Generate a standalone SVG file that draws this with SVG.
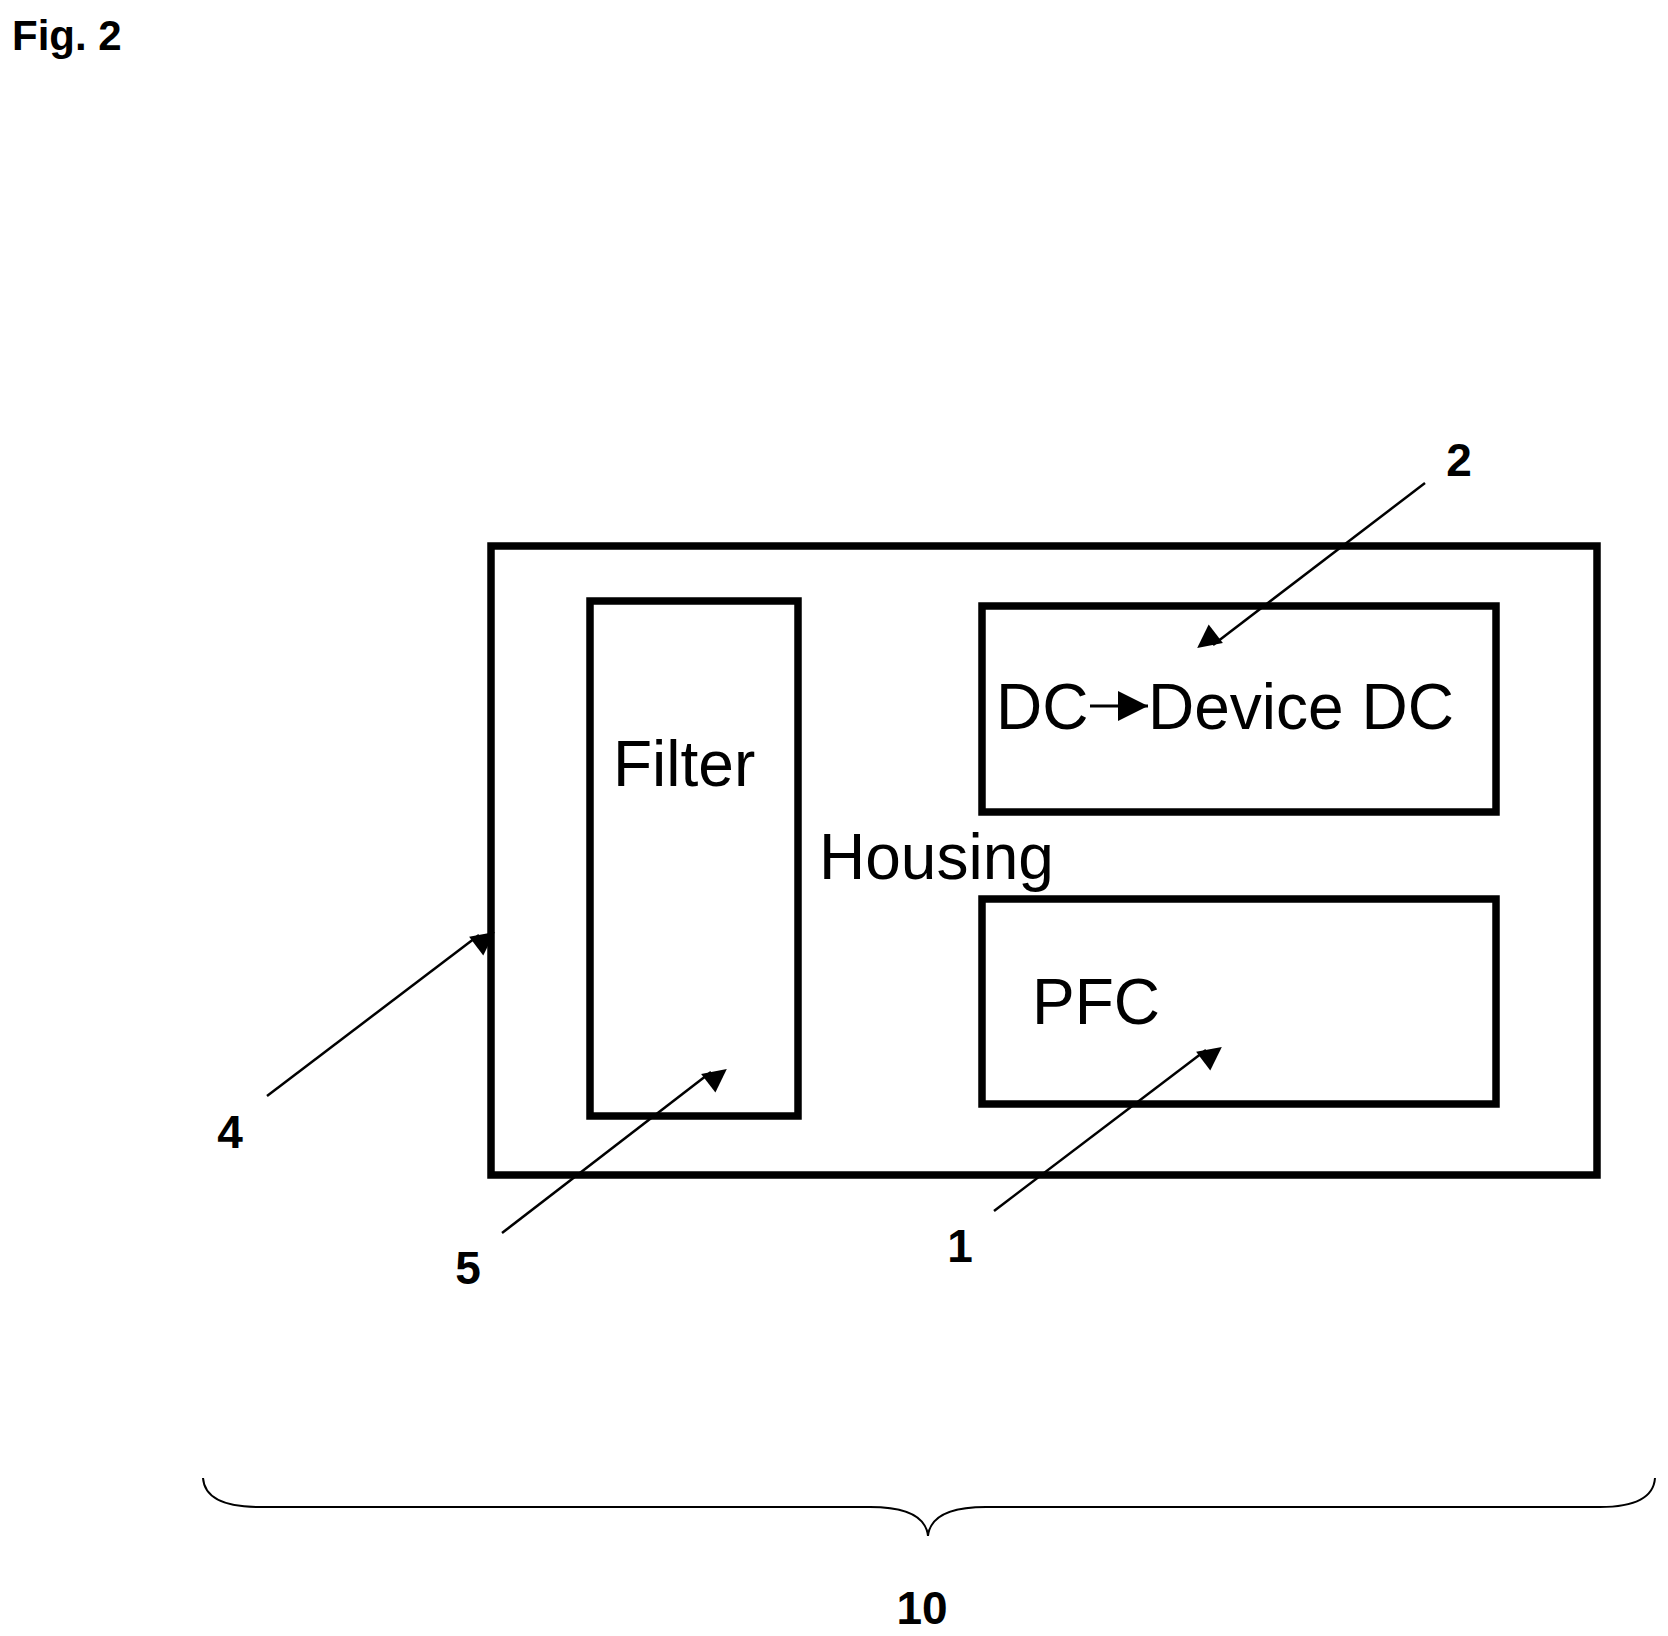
<svg xmlns="http://www.w3.org/2000/svg" width="1668" height="1636" viewBox="0 0 1668 1636">
<style>
.box{fill:none;stroke:#000;stroke-width:7.5}
.t{font-family:"Liberation Sans",Arial,sans-serif;font-size:64px;fill:#000}
.n{font-family:"Liberation Sans",Arial,sans-serif;font-size:46px;font-weight:bold;fill:#000;text-anchor:middle}
.ld{stroke:#000;stroke-width:2.5;fill:none;marker-end:url(#ah)}
</style>
<defs>
<marker id="ah" viewBox="0 0 10 10" refX="10" refY="5" markerWidth="10" markerHeight="9" markerUnits="userSpaceOnUse" orient="auto" style="overflow:visible">
<path d="M0,0 L10,5 L0,10 z" fill="#000" transform="scale(2.6)"/>
</marker>
<marker id="ah2" viewBox="0 0 10 10" refX="10" refY="5" markerWidth="30" markerHeight="30" markerUnits="userSpaceOnUse" orient="auto">
<path d="M0,0 L10,5 L0,10 z" fill="#000"/>
</marker>
</defs>
<rect width="1668" height="1636" fill="#fff"/>
<text x="12" y="50" font-family="Liberation Sans,Arial,sans-serif" font-size="42" font-weight="bold">Fig. 2</text>
<g id="housing"><rect class="box" x="491" y="546" width="1106" height="629"/><text class="t" x="819" y="879">Housing</text></g>
<g id="filter"><rect class="box" x="590" y="601" width="208" height="515"/><text class="t" x="613" y="786">Filter</text></g>
<g id="dcdc"><rect class="box" x="982" y="606" width="514" height="206"/>
<text class="t" x="996" y="729">DC</text>
<line x1="1090" y1="706" x2="1148" y2="706" stroke="#000" stroke-width="3" marker-end="url(#ah2)"/>
<text class="t" x="1148" y="729">Device DC</text></g>
<g id="pfc"><rect class="box" x="982" y="899" width="514" height="205"/><text class="t" x="1032" y="1024">PFC</text></g>
<g id="connectors">
<line class="ld" x1="1425" y1="483" x2="1213" y2="645"/>
<line class="ld" x1="267" y1="1096" x2="479" y2="935"/>
<line class="ld" x1="502" y1="1233" x2="711" y2="1072"/>
<line class="ld" x1="994" y1="1211" x2="1206" y2="1050"/>
<path d="M203,1478 Q205,1507 260,1507 L870,1507 Q925,1507 928,1536 Q931,1507 986,1507 L1600,1507 Q1653,1507 1655,1478" fill="none" stroke="#000" stroke-width="2"/>
</g>
<g id="labels">
<text class="n" x="1459" y="476">2</text>
<text class="n" x="230" y="1148">4</text>
<text class="n" x="468" y="1284">5</text>
<text class="n" x="960" y="1262">1</text>
<text class="n" x="922" y="1624">10</text>
</g>
</svg>
